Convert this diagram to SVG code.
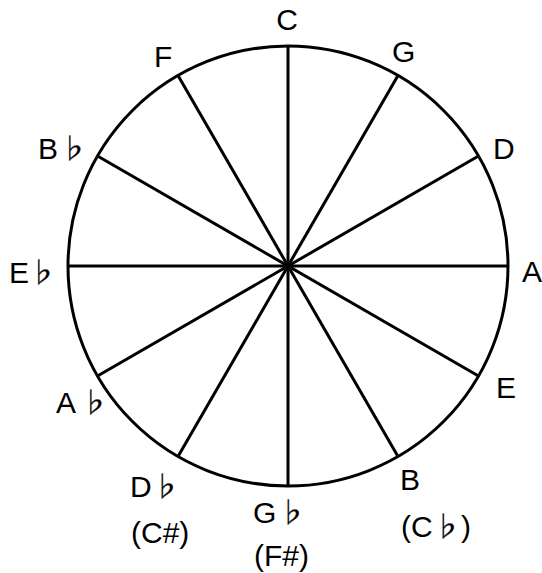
<svg xmlns="http://www.w3.org/2000/svg" width="542" height="573" viewBox="0 0 542 573">
<style>
.lbl{font-family:"Liberation Sans",sans-serif;font-size:30px;fill:#000}
.flat{font-family:"Noto Sans CJK JP","DejaVu Sans",sans-serif;font-size:28px;fill:#000;stroke:#000;stroke-width:0.3}
.ln{stroke:#000;stroke-width:3;fill:none}
</style>
<rect width="542" height="573" fill="#fff"/>
<g id="wheel">
<circle class="ln" cx="288" cy="266" r="220"/>
</g>
<g id="connectors">
<line class="ln" x1="288" y1="46" x2="288" y2="486"/>
<line class="ln" x1="398" y1="75.5" x2="178" y2="456.5"/>
<line class="ln" x1="478.5" y1="156" x2="97.5" y2="376"/>
<line class="ln" x1="508" y1="266" x2="68" y2="266"/>
<line class="ln" x1="478.5" y1="376" x2="97.5" y2="156"/>
<line class="ln" x1="398" y1="456.5" x2="178" y2="75.5"/>
</g>
<g id="C"><text class="lbl" x="287" y="30" text-anchor="middle">C</text></g>
<g id="G"><text class="lbl" x="392" y="62">G</text></g>
<g id="D"><text class="lbl" x="493" y="159">D</text></g>
<g id="A"><text class="lbl" x="522" y="282">A</text></g>
<g id="E"><text class="lbl" x="496" y="398">E</text></g>
<g id="B"><text class="lbl" x="400" y="490">B</text><text class="lbl" x="401" y="537">(C<tspan class="flat" x="447" text-anchor="middle">♭</tspan><tspan x="461">)</tspan></text></g>
<g id="Gb"><text class="lbl" x="253" y="523">G<tspan class="flat" x="292" text-anchor="middle">♭</tspan></text><text class="lbl" x="254" y="566">(F#)</text></g>
<g id="Db"><text class="lbl" x="130" y="497">D<tspan class="flat" x="166" text-anchor="middle">♭</tspan></text><text class="lbl" x="131" y="543">(C#)</text></g>
<g id="Ab"><text class="lbl" x="56" y="413">A<tspan class="flat" x="94.5" text-anchor="middle">♭</tspan></text></g>
<g id="Eb"><text class="lbl" x="9" y="283">E<tspan class="flat" x="42.5" text-anchor="middle">♭</tspan></text></g>
<g id="Bb"><text class="lbl" x="38" y="159">B<tspan class="flat" x="73.5" text-anchor="middle">♭</tspan></text></g>
<g id="F"><text class="lbl" x="154" y="67">F</text></g>
</svg>
